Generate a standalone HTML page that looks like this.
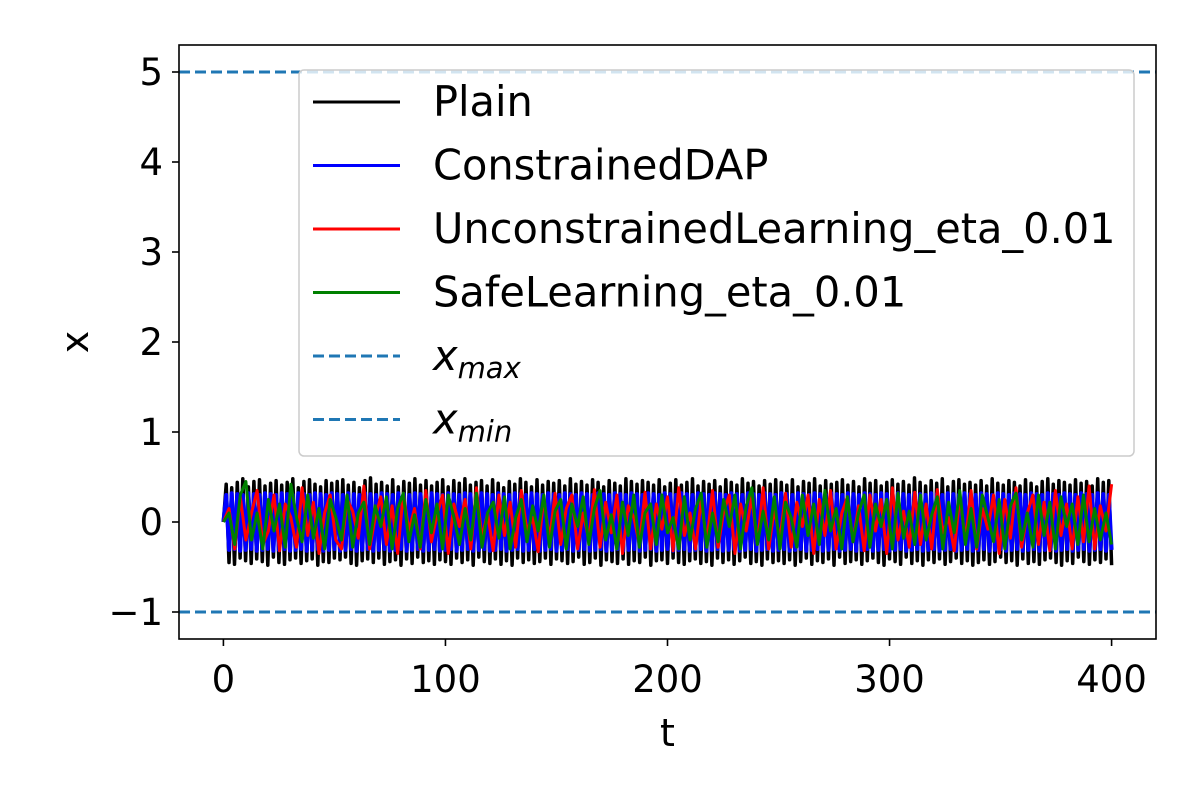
<!DOCTYPE html>
<html><head><meta charset="utf-8"><style>
html,body{margin:0;padding:0;background:#fff;}
svg text{font-family:"DejaVu Sans","Liberation Sans",sans-serif;}
</style></head><body>
<svg id="chart" width="1200" height="800" viewBox="0 0 1200 800" xmlns="http://www.w3.org/2000/svg">
<rect width="1200" height="800" fill="#fff"/>
<g id="plot"></g>
<g id="axes"></g>
<g id="legend"></g>
</svg>
<script>
const xTicks=[0,100,200,300,400];
const yTicks=[-1,0,1,2,3,4,5];
const yTickLabels=["\u22121","0","1","2","3","4","5"];
const xMaxLimit=5, xMinLimit=-1;
const plainVals=[0,
0.42,-0.45,0.38,-0.47,0.44,-0.40,0.48,-0.43,0.39,-0.46,0.45,-0.41,0.47,-0.44,0.40,-0.48,0.43,-0.39,0.46,-0.45,0.41,-0.47,0.44,-0.42,0.48,-0.40,0.38,-0.46,0.45,-0.43,0.47,-0.41,0.42,-0.48,0.39,-0.44,0.46,-0.45,0.43,-0.40,
0.45,-0.42,0.47,-0.39,0.41,-0.46,0.44,-0.48,0.38,-0.43,0.46,-0.41,0.49,-0.45,0.42,-0.40,0.44,-0.47,0.40,-0.44,0.47,-0.42,0.39,-0.48,0.45,-0.41,0.43,-0.46,0.48,-0.39,0.41,-0.45,0.46,-0.43,0.40,-0.47,0.44,-0.42,0.47,-0.44,
0.39,-0.47,0.46,-0.40,0.43,-0.45,0.48,-0.42,0.41,-0.48,0.44,-0.39,0.46,-0.44,0.40,-0.46,0.47,-0.41,0.43,-0.47,0.38,-0.43,0.45,-0.48,0.42,-0.40,0.48,-0.45,0.44,-0.42,0.39,-0.46,0.47,-0.44,0.41,-0.40,0.45,-0.47,0.43,-0.41,
0.46,-0.43,0.40,-0.46,0.48,-0.44,0.42,-0.39,0.45,-0.47,0.41,-0.45,0.47,-0.40,0.44,-0.48,0.39,-0.42,0.46,-0.44,0.43,-0.46,0.40,-0.41,0.48,-0.47,0.45,-0.43,0.42,-0.45,0.46,-0.39,0.44,-0.48,0.41,-0.43,0.47,-0.42,0.39,-0.46,
0.43,-0.40,0.47,-0.45,0.41,-0.47,0.44,-0.43,0.48,-0.41,0.40,-0.46,0.45,-0.44,0.42,-0.48,0.46,-0.40,0.39,-0.45,0.47,-0.42,0.44,-0.47,0.41,-0.43,0.48,-0.39,0.43,-0.46,0.45,-0.44,0.40,-0.48,0.46,-0.41,0.42,-0.45,0.47,-0.43,
0.44,-0.46,0.41,-0.42,0.47,-0.48,0.39,-0.44,0.45,-0.40,0.43,-0.47,0.48,-0.43,0.40,-0.45,0.46,-0.41,0.42,-0.48,0.44,-0.39,0.47,-0.46,0.41,-0.44,0.45,-0.42,0.39,-0.47,0.48,-0.43,0.43,-0.40,0.46,-0.45,0.40,-0.48,0.44,-0.41,
0.47,-0.44,0.42,-0.47,0.45,-0.39,0.41,-0.46,0.49,-0.43,0.44,-0.48,0.40,-0.42,0.46,-0.45,0.43,-0.41,0.48,-0.47,0.39,-0.44,0.45,-0.40,0.47,-0.46,0.42,-0.43,0.44,-0.48,0.41,-0.45,0.46,-0.42,0.40,-0.47,0.48,-0.44,0.43,-0.39,
0.41,-0.45,0.46,-0.43,0.44,-0.48,0.40,-0.41,0.47,-0.46,0.43,-0.44,0.39,-0.47,0.45,-0.42,0.48,-0.40,0.42,-0.45,0.46,-0.48,0.44,-0.43,0.41,-0.46,0.47,-0.39,0.43,-0.44,0.45,-0.47,0.40,-0.42,0.48,-0.45,0.44,-0.41,0.46,-0.48];
const dapVals=[0,
0.30,-0.31,0.32,-0.30,0.31,-0.32,0.30,-0.31,0.32,-0.30,0.31,-0.32,0.30,-0.31,0.32,-0.30,0.31,-0.32,0.30,-0.31,0.32,-0.30,0.31,-0.32,0.30,-0.31,0.32,-0.30,0.31,-0.32,0.30,-0.31,0.32,-0.30,0.31,-0.32,0.30,-0.31,0.32,-0.30,
0.31,-0.32,0.30,-0.31,0.32,-0.30,0.31,-0.32,0.30,-0.31,0.32,-0.30,0.31,-0.32,0.30,-0.31,0.32,-0.30,0.31,-0.32,0.30,-0.31,0.32,-0.30,0.31,-0.32,0.30,-0.31,0.32,-0.30,0.31,-0.32,0.30,-0.31,0.32,-0.30,0.31,-0.32,0.30,-0.31,
0.32,-0.30,0.31,-0.32,0.30,-0.31,0.32,-0.30,0.31,-0.32,0.30,-0.31,0.32,-0.30,0.31,-0.32,0.30,-0.31,0.32,-0.30,0.31,-0.32,0.30,-0.31,0.32,-0.30,0.31,-0.32,0.30,-0.31,0.32,-0.30,0.31,-0.32,0.30,-0.31,0.32,-0.30,0.31,-0.32,
0.30,-0.31,0.32,-0.30,0.31,-0.32,0.30,-0.31,0.32,-0.30,0.31,-0.32,0.30,-0.31,0.32,-0.30,0.31,-0.32,0.30,-0.31,0.32,-0.30,0.31,-0.32,0.30,-0.31,0.32,-0.30,0.31,-0.32,0.30,-0.31,0.32,-0.30,0.31,-0.32,0.30,-0.31,0.32,-0.30,
0.31,-0.32,0.30,-0.31,0.32,-0.30,0.31,-0.32,0.30,-0.31,0.32,-0.30,0.31,-0.32,0.30,-0.31,0.32,-0.30,0.31,-0.32,0.30,-0.31,0.32,-0.30,0.31,-0.32,0.30,-0.31,0.32,-0.30,0.31,-0.32,0.30,-0.31,0.32,-0.30,0.31,-0.32,0.30,-0.31,
0.32,-0.30,0.31,-0.32,0.30,-0.31,0.32,-0.30,0.31,-0.32,0.30,-0.31,0.32,-0.30,0.31,-0.32,0.30,-0.31,0.32,-0.30,0.31,-0.32,0.30,-0.31,0.32,-0.30,0.31,-0.32,0.30,-0.31,0.32,-0.30,0.31,-0.32,0.30,-0.31,0.32,-0.30,0.31,-0.32,
0.30,-0.31,0.32,-0.30,0.31,-0.32,0.30,-0.31,0.32,-0.30,0.31,-0.32,0.30,-0.31,0.32,-0.30,0.31,-0.32,0.30,-0.31,0.32,-0.30,0.31,-0.32,0.30,-0.31,0.32,-0.30,0.31,-0.32,0.30,-0.31,0.32,-0.30,0.31,-0.32,0.30,-0.31,0.32,-0.30,
0.31,-0.32,0.30,-0.31,0.32,-0.30,0.31,-0.32,0.30,-0.31,0.32,-0.30,0.31,-0.32,0.30,-0.31,0.32,-0.30,0.31,-0.32,0.30,-0.31,0.32,-0.30,0.31,-0.32,0.30,-0.31,0.32,-0.30,0.31,-0.32,0.30,-0.31,0.32,-0.30,0.31,-0.32,0.30,-0.31];
const redVals=[0,0.15,-0.30,0.28,-0.20,0.10,0.35,-0.25,-0.10,0.30,-0.32,0.20,0.05,-0.28,0.38,-0.15,0.22,-0.35,0.10,0.30,-0.20,-0.30,0.25,0.12,-0.18,0.40,-0.30,0.05,0.28,-0.25,0.18,-0.35,0.32,-0.10,0.15,-0.30,0.35,-0.22,0.08,0.30,-0.35,0.20,-0.05,0.25,-0.30,0.38,-0.18,0.10,-0.32,0.30,-0.15,0.22,-0.28,0.35,-0.10,0.05,-0.33,0.28,-0.20,0.32,-0.25,0.15,0.30,-0.30,0.10,-0.20,0.36,-0.28,0.22,-0.12,0.30,-0.35,0.18,0.05,-0.25,0.33,-0.30,0.20,-0.08,0.28,-0.32,0.38,-0.15,0.10,-0.30,0.25,-0.22,0.35,-0.28,0.12,0.30,-0.35,0.20,-0.10,0.28,-0.25,0.38,-0.30,0.15,-0.20,0.32,-0.28,0.22,-0.05,0.30,-0.35,0.25,-0.15,0.35,-0.30,0.10,0.28,-0.22,0.18,-0.32,0.30,-0.10,0.25,-0.35,0.38,-0.20,0.12,-0.28,0.33,-0.25,0.20,-0.30,0.36,-0.12,0.05,-0.32,0.28,-0.20,0.35,-0.30,0.15,-0.08,0.30,-0.35,0.25,-0.18,0.38,-0.28,0.10,0.30,-0.25,0.22,-0.32,0.35,-0.15,0.20,-0.30,0.28,-0.22,0.40,-0.30,0.18,-0.10,0.42];
const greenVals=[0,0.10,-0.25,0.30,0.45,-0.20,0.10,-0.30,0.25,-0.10,0.20,-0.28,0.42,0.05,-0.22,0.30,-0.18,0.15,-0.30,0.25,0.05,-0.20,0.30,-0.28,0.10,0.22,-0.25,0.18,-0.05,0.28,-0.30,0.15,0.32,-0.22,0.08,-0.28,0.25,-0.12,0.20,-0.30,0.30,0.05,-0.25,0.15,-0.20,0.32,-0.28,0.10,0.22,-0.18,0.28,-0.30,0.05,0.25,-0.22,0.18,-0.10,0.30,-0.28,0.12,0.25,-0.30,0.20,-0.05,0.28,-0.25,0.15,0.35,-0.20,0.08,-0.30,0.22,-0.15,0.30,-0.28,0.10,0.20,-0.25,0.30,-0.12,0.05,-0.30,0.28,-0.20,0.15,0.32,-0.28,0.10,-0.22,0.25,-0.05,0.30,-0.30,0.18,0.38,-0.25,0.12,-0.20,0.28,-0.30,0.22,0.05,-0.28,0.30,-0.15,0.20,-0.25,0.35,-0.10,0.15,-0.30,0.28,-0.22,0.10,0.30,-0.28,0.20,-0.05,0.25,-0.30,0.32,-0.18,0.12,-0.25,0.30,-0.20,0.08,0.28,-0.30,0.22,-0.12,0.35,-0.25,0.15,-0.28,0.30,0.05,-0.22,0.25,-0.30,0.18,0.32,-0.20,0.10,-0.28,0.30,-0.15,0.22,-0.30,0.28,-0.05,0.20,-0.25,0.30,-0.22,0.15,-0.20,0.10,-0.25];
const L=179,T=45,R=1156,B=639;
const xMin=-20,xMax=420,yMin=-1.3,yMax=5.3;
function xs(v){return L+(v-xMin)/(xMax-xMin)*(R-L);}
function ys(v){return B-(v-yMin)/(yMax-yMin)*(B-T);}
const NS='http://www.w3.org/2000/svg';
function mk(tag,attrs,parent){const e=document.createElementNS(NS,tag);for(const k in attrs)e.setAttribute(k,attrs[k]);parent.appendChild(e);return e;}
const plot=document.getElementById('plot'),axes=document.getElementById('axes'),leg=document.getElementById('legend');
function series(vals,color,name,w){
  const step=400/(vals.length-1);
  const d=vals.map((v,i)=>(i?'L':'M')+xs(i*step).toFixed(1)+' '+ys(v).toFixed(1)).join(' ');
  const p=mk('path',{d:d,fill:'none',stroke:color,'stroke-width':w,'stroke-linejoin':'round'},plot);
  
  
}
series(plainVals,'#000','plain-series',3.5);
series(dapVals,'#0000ff','constrained-dap-series',4);
series(redVals,'#ff0000','unconstrained-learning-series',3);
series(greenVals,'#008000','safe-learning-series',3);
[[xMaxLimit,'x-max-line'],[xMinLimit,'x-min-line']].forEach(([v,n])=>{
  const l=mk('line',{x1:L,x2:R,y1:ys(v),y2:ys(v),stroke:'#1f77b4','stroke-width':3,'stroke-dasharray':'11,5'},plot);
  
  
});
const frame=mk('rect',{x:L,y:T,width:R-L,height:B-T,fill:'none',stroke:'#000','stroke-width':1.6},axes);


xTicks.forEach(v=>{
  mk('line',{x1:xs(v),x2:xs(v),y1:B,y2:B+7,stroke:'#000','stroke-width':1.6},axes);
  const t=mk('text',{x:xs(v),y:B+53,'font-size':37,'text-anchor':'middle'},axes);
  t.textContent=v;
  
  
});
yTicks.forEach((v,i)=>{
  mk('line',{x1:L-7,x2:L,y1:ys(v),y2:ys(v),stroke:'#000','stroke-width':1.6},axes);
  const t=mk('text',{x:L-16,y:ys(v)+13,'font-size':37,'text-anchor':'end'},axes);
  t.textContent=yTickLabels[i];
  
  
});
const xl=mk('text',{x:(L+R)/2,y:746,'font-size':38,'text-anchor':'middle'},axes);
xl.textContent='t';


const yl=mk('text',{x:78,y:(T+B)/2+10,'font-size':38,'text-anchor':'middle',transform:'rotate(-90 78 '+((T+B)/2)+')'},axes);
yl.textContent='x';


const box=mk('rect',{x:299,y:70,width:835,height:386,rx:5,fill:'#fff','fill-opacity':0.8,stroke:'#ccc','stroke-width':1.5},leg);


const entries=[['Plain','#000',''],['ConstrainedDAP','#0000ff',''],['UnconstrainedLearning_eta_0.01','#ff0000',''],['SafeLearning_eta_0.01','#008000',''],['x|max','#1f77b4','11,5'],['x|min','#1f77b4','11,5']];
entries.forEach((e,i)=>{
  const y=102+i*63.5;
  const g=mk('g',{},leg);
  
  
  mk('line',{x1:313,x2:400,y1:y,y2:y,stroke:e[1],'stroke-width':3,'stroke-dasharray':e[2]||'none'},g);
  const t=mk('text',{x:433,y:y+14,'font-size':41.5},g);
  if(e[0].includes('|')){
    const [a,b]=e[0].split('|');
    const t1=mk('tspan',{'font-style':'italic'},t);t1.textContent=a;
    const t2=mk('tspan',{'font-style':'italic','font-size':29,dy:8},t);t2.textContent=b;
  } else t.textContent=e[0];
});
</script>
</body></html>
